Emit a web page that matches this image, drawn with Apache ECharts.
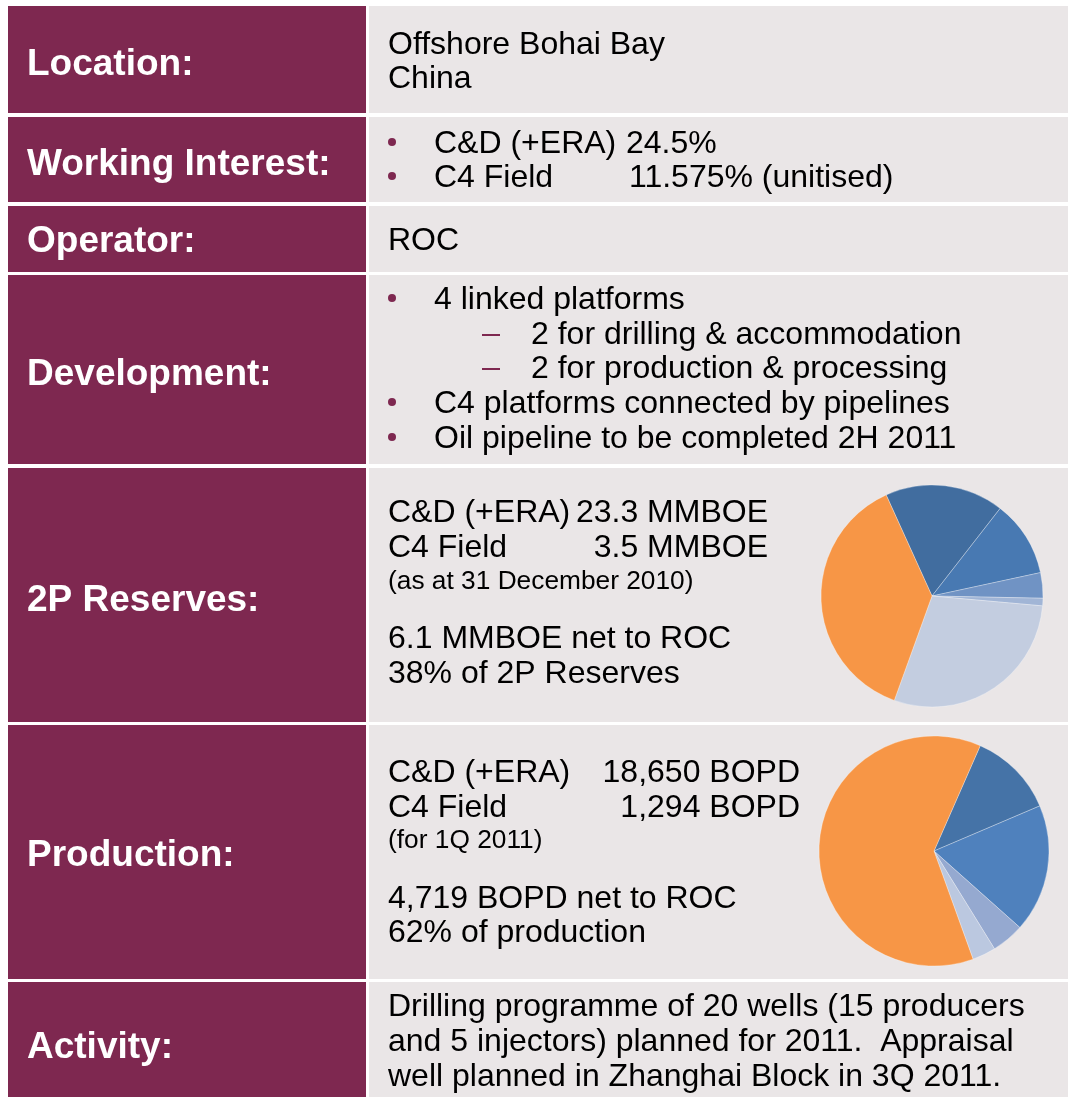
<!DOCTYPE html>
<html>
<head>
<meta charset="utf-8">
<script src="https://cdn.jsdelivr.net/npm/echarts@6/dist/echarts.min.js"></script>
<style>
  html, body { margin: 0; padding: 0; background: #fff; }
  #main { width: 1068px; height: 1097px; }
</style>
</head>
<body>
<div id="main"></div>
<script>
// table rows
const rowLabels = ["Location:", "Working Interest:", "Operator:", "Development:", "2P Reserves:", "Production:", "Activity:"];

// 2P reserves pie (share of 2P, %)
const reserveNames = ["Partner A", "Partner B", "Partner C", "Partner D", "Partner E", "ROC"];
const reserveValues = [17.3, 11.1, 3.7, 1.1, 29.1, 37.7];
const reserveColors = ["#416D9F", "#4879B2", "#7093C4", "#A1B5D6", "#C3CDE0", "#F79646"];

// production pie (share of production, %)
const prodNames = ["Partner A", "Partner B", "Partner C", "Partner D", "ROC"];
const prodValues = [12.0, 18.0, 4.6, 3.3, 62.1];
const prodColors = ["#4573A7", "#4F81BD", "#95A9D0", "#BBC8E0", "#F79646"];

const PURPLE = "#7E2850";
const GREY = "#EAE6E7";
const FONT = "Liberation Sans";
const rowTops = [6, 117, 206, 275, 468, 725, 982];
const rowBots = [113, 202, 272, 464, 722, 979, 1097];
const labelBase = [75, 175, 252, 385, 611, 866, 1058];

var g = [];
function txt(x, base, s, size, opt) {
  opt = opt || {};
  g.push({
    type: "text", x: x, y: base - 0.35 * size + 2.5, silent: true,
    style: {
      text: s, fill: opt.color || "#000", font: (opt.bold ? "bold " : "") + size + "px " + FONT,
      textAlign: opt.align || "left", textVerticalAlign: "middle"
    }
  });
}
function bullet(base) {
  g.push({ type: "circle", silent: true, shape: { cx: 392, cy: base - 11, r: 4 }, style: { fill: PURPLE } });
}
function dash(base) {
  g.push({ type: "line", silent: true, shape: { x1: 482, y1: base - 9, x2: 500, y2: base - 9 }, style: { stroke: PURPLE, lineWidth: 2 } });
}

// cells
for (var i = 0; i < rowLabels.length; i++) {
  g.push({ type: "rect", silent: true, shape: { x: 8, y: rowTops[i], width: 358, height: rowBots[i] - rowTops[i] }, style: { fill: PURPLE } });
  g.push({ type: "rect", silent: true, shape: { x: 369, y: rowTops[i], width: 699, height: rowBots[i] - rowTops[i] }, style: { fill: GREY } });
  txt(27, labelBase[i], rowLabels[i], 37, { bold: true, color: "#fff" });
}

const B = 32, S = 26.3;
// Location
txt(388, 54, "Offshore Bohai Bay", B);
txt(388, 88, "China", B);
// Working interest
bullet(153); txt(434, 153, "C&D (+ERA)", B); txt(626, 153, "24.5%", B);
bullet(187); txt(434, 187, "C4 Field", B); txt(629, 187, "11.575% (unitised)", B);
// Operator
txt(388, 250, "ROC", B);
// Development
bullet(309); txt(434, 309, "4 linked platforms", B);
dash(344); txt(531, 344, "2 for drilling & accommodation", B);
dash(378); txt(531, 378, "2 for production & processing", B);
bullet(413); txt(434, 413, "C4 platforms connected by pipelines", B);
bullet(448); txt(434, 448, "Oil pipeline to be completed 2H 2011", B);
// 2P reserves
txt(388, 522, "C&D (+ERA)", B); txt(768, 522, "23.3 MMBOE", B, { align: "right" });
txt(388, 557, "C4 Field", B); txt(768, 557, "3.5 MMBOE", B, { align: "right" });
txt(388, 588, "(as at 31 December 2010)", S);
txt(388, 648, "6.1 MMBOE net to ROC", B);
txt(388, 683, "38% of 2P Reserves", B);
// Production
txt(388, 782, "C&D (+ERA)", B); txt(800, 782, "18,650 BOPD", B, { align: "right" });
txt(388, 817, "C4 Field", B); txt(800, 817, "1,294 BOPD", B, { align: "right" });
txt(388, 847, "(for 1Q 2011)", S);
txt(388, 908, "4,719 BOPD net to ROC", B);
txt(388, 942, "62% of production", B);
// Activity
txt(388, 1016, "Drilling programme of 20 wells (15 producers", B);
txt(388, 1051, "and 5 injectors) planned for 2011.  Appraisal", B);
txt(388, 1086, "well planned in Zhanghai Block in 3Q 2011.", B);

function pieData(names, values, colors) {
  return values.map(function (v, k) {
    return { name: names[k], value: v, itemStyle: { color: colors[k] } };
  });
}

var chart = echarts.init(document.getElementById("main"));
chart.setOption({
  backgroundColor: "#fff",
  animation: false,
  graphic: { elements: g },
  series: [
    {
      type: "pie", silent: true, z: 10,
      center: [932, 596], radius: 111, startAngle: 114.4, clockwise: true,
      label: { show: false }, labelLine: { show: false },
      itemStyle: { borderColor: "rgba(255,255,255,0.5)", borderWidth: 0.6 },
      data: pieData(reserveNames, reserveValues, reserveColors)
    },
    {
      type: "pie", silent: true, z: 10,
      center: [934, 851], radius: 115, startAngle: 66.3, clockwise: true,
      label: { show: false }, labelLine: { show: false },
      itemStyle: { borderColor: "rgba(255,255,255,0.5)", borderWidth: 0.6 },
      data: pieData(prodNames, prodValues, prodColors)
    }
  ]
});
</script>
</body>
</html>
